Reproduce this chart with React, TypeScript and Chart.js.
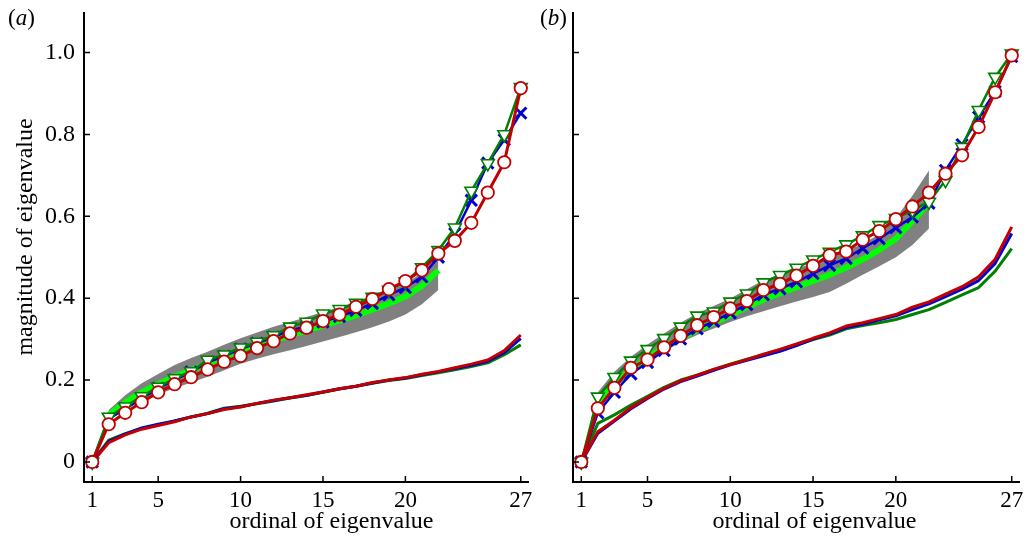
import React, { useEffect, useRef } from 'react';
import { Chart, registerables } from 'chart.js';

Chart.register(...registerables);

// ---------- data ----------
const ordinals = [1, 2, 3, 4, 5, 6, 7, 8, 9, 10, 11, 12, 13, 14, 15, 16, 17, 18, 19, 20, 21, 22, 23, 24, 25, 26, 27];
const bandOrdinals = [2, 3, 4, 5, 6, 7, 8, 9, 10, 11, 12, 13, 14, 15, 16, 17, 18, 19, 20, 21, 22];
const xTickValues = [1, 5, 10, 15, 20, 27];
const yTickValues = [0, 0.2, 0.4, 0.6, 0.8, 1.0];
const xTitle = 'ordinal of eigenvalue';
const yTitle = 'magnitude of eigenvalue';

// panel (a)
const aRedCircles = [0, 0.092, 0.12, 0.146, 0.17, 0.19, 0.207, 0.226, 0.245, 0.259, 0.278, 0.295, 0.314, 0.328, 0.344, 0.36, 0.379, 0.398, 0.422, 0.442, 0.468, 0.509, 0.54, 0.584, 0.658, 0.732, 0.913];
const aGreenTriangles = [0, 0.11, 0.135, 0.16, 0.183, 0.204, 0.221, 0.249, 0.262, 0.279, 0.293, 0.309, 0.33, 0.342, 0.362, 0.373, 0.388, 0.403, 0.42, 0.44, 0.475, 0.517, 0.572, 0.662, 0.729, 0.8, 0.915];
const aBlueCrosses = [0, 0.105, 0.13, 0.155, 0.18, 0.2, 0.22, 0.243, 0.258, 0.276, 0.29, 0.305, 0.322, 0.33, 0.342, 0.355, 0.37, 0.387, 0.408, 0.426, 0.452, 0.5, 0.558, 0.639, 0.73, 0.787, 0.852];
const aLowRed = [0, 0.047, 0.066, 0.08, 0.089, 0.098, 0.11, 0.118, 0.128, 0.134, 0.143, 0.151, 0.157, 0.164, 0.171, 0.179, 0.185, 0.194, 0.2, 0.206, 0.214, 0.221, 0.23, 0.239, 0.249, 0.272, 0.31];
const aLowGreen = [0, 0.053, 0.069, 0.082, 0.09, 0.1, 0.11, 0.119, 0.131, 0.136, 0.142, 0.149, 0.156, 0.162, 0.17, 0.178, 0.185, 0.192, 0.199, 0.204, 0.211, 0.218, 0.225, 0.233, 0.242, 0.262, 0.286];
const aLowBlue = [0, 0.05, 0.068, 0.083, 0.092, 0.1, 0.11, 0.118, 0.13, 0.135, 0.143, 0.15, 0.157, 0.163, 0.171, 0.179, 0.185, 0.193, 0.2, 0.205, 0.213, 0.22, 0.228, 0.236, 0.246, 0.267, 0.302];
const aLightGreen = [0.115, 0.145, 0.17, 0.19, 0.208, 0.224, 0.24, 0.255, 0.27, 0.283, 0.296, 0.309, 0.321, 0.333, 0.345, 0.358, 0.372, 0.387, 0.404, 0.43, 0.468];
const aBandUpper = [0.127, 0.163, 0.192, 0.215, 0.237, 0.254, 0.269, 0.286, 0.302, 0.316, 0.33, 0.342, 0.354, 0.366, 0.378, 0.391, 0.404, 0.419, 0.435, 0.462, 0.505];
const aBandLower = [0.105, 0.128, 0.148, 0.165, 0.18, 0.194, 0.208, 0.224, 0.24, 0.252, 0.263, 0.273, 0.283, 0.294, 0.305, 0.317, 0.329, 0.343, 0.36, 0.385, 0.42];

// panel (b)
const bRedCircles = [0, 0.131, 0.181, 0.23, 0.25, 0.28, 0.308, 0.334, 0.354, 0.375, 0.393, 0.42, 0.435, 0.455, 0.479, 0.505, 0.514, 0.543, 0.564, 0.593, 0.624, 0.658, 0.704, 0.749, 0.818, 0.903, 0.993];
const bGreenTriangles = [0, 0.159, 0.207, 0.247, 0.275, 0.302, 0.33, 0.357, 0.367, 0.391, 0.411, 0.438, 0.456, 0.474, 0.494, 0.513, 0.531, 0.553, 0.578, 0.595, 0.615, 0.635, 0.688, 0.769, 0.859, 0.94, 0.997];
const bBlueCrosses = [0, 0.12, 0.17, 0.215, 0.243, 0.272, 0.3, 0.325, 0.343, 0.364, 0.384, 0.408, 0.423, 0.44, 0.46, 0.48, 0.497, 0.522, 0.545, 0.572, 0.598, 0.632, 0.712, 0.775, 0.842, 0.905, 0.99];
const bLowRed = [0, 0.074, 0.102, 0.133, 0.157, 0.18, 0.198, 0.212, 0.226, 0.238, 0.25, 0.263, 0.275, 0.288, 0.302, 0.315, 0.332, 0.34, 0.35, 0.36, 0.378, 0.391, 0.41, 0.428, 0.452, 0.495, 0.574];
const bLowGreen = [0, 0.094, 0.115, 0.139, 0.16, 0.182, 0.2, 0.212, 0.226, 0.239, 0.251, 0.262, 0.274, 0.286, 0.299, 0.31, 0.325, 0.333, 0.34, 0.348, 0.36, 0.372, 0.39, 0.408, 0.426, 0.466, 0.521];
const bLowBlue = [0, 0.07, 0.1, 0.13, 0.155, 0.178, 0.196, 0.21, 0.224, 0.237, 0.248, 0.259, 0.27, 0.284, 0.3, 0.313, 0.328, 0.336, 0.347, 0.357, 0.372, 0.386, 0.404, 0.422, 0.443, 0.485, 0.558];
const bLightGreen = [0.15, 0.19, 0.225, 0.255, 0.28, 0.302, 0.322, 0.34, 0.358, 0.378, 0.396, 0.412, 0.427, 0.442, 0.457, 0.475, 0.495, 0.518, 0.545, 0.588, 0.632];
const bBandUpper = [0.17, 0.22, 0.257, 0.287, 0.314, 0.34, 0.363, 0.381, 0.399, 0.422, 0.444, 0.458, 0.472, 0.486, 0.5, 0.516, 0.533, 0.556, 0.596, 0.65, 0.712];
const bBandLower = [0.145, 0.182, 0.213, 0.243, 0.27, 0.292, 0.31, 0.326, 0.342, 0.356, 0.368, 0.38, 0.392, 0.403, 0.415, 0.435, 0.457, 0.478, 0.5, 0.53, 0.57];

// ---------- styling ----------
const FONT = '"Liberation Serif", "Times New Roman", serif';
const RED = '#c20000';
const GREEN = '#008000';
const BLUE = '#0000d0';
const LIGHT = '#00ff00';
const GRAY = '#808080';

const pts = (xs: number[], ys: number[]) => xs.map((x, i) => ({ x, y: ys[i] }));

type Panel = {
  label: string;
  red: number[]; green: number[]; blue: number[];
  lowRed: number[]; lowGreen: number[]; lowBlue: number[];
  light: number[]; upper: number[]; lower: number[];
  yWidth: number; padRight: number; showYLabels: boolean; showYTitle: boolean; xTitleShift: number;
  canvasLeft: number; canvasWidth: number; labelX: number;
};

const panels: Panel[] = [
  {
    label: 'a', red: aRedCircles, green: aGreenTriangles, blue: aBlueCrosses,
    lowRed: aLowRed, lowGreen: aLowGreen, lowBlue: aLowBlue,
    light: aLightGreen, upper: aBandUpper, lower: aBandLower,
    yWidth: 84, padRight: 7, showYLabels: true, showYTitle: true, xTitleShift: 25,
    canvasLeft: 0, canvasWidth: 540, labelX: 8,
  },
  {
    label: 'b', red: bRedCircles, green: bGreenTriangles, blue: bBlueCrosses,
    lowRed: bLowRed, lowGreen: bLowGreen, lowBlue: bLowBlue,
    light: bLightGreen, upper: bBandUpper, lower: bBandLower,
    yWidth: 33, padRight: 8, showYLabels: false, showYTitle: false, xTitleShift: 18,
    canvasLeft: 540, canvasWidth: 491, labelX: 0,
  },
];

function decorPlugin(p: Panel) {
  return {
    id: 'decor' + p.label,
    afterDraw(chart: any) {
      const { ctx, chartArea } = chart;
      const { left, right, top, bottom } = chartArea;
      const xs = chart.scales.x;
      const ys = chart.scales.y;
      ctx.save();
      ctx.strokeStyle = '#000';
      ctx.lineWidth = 2;
      ctx.beginPath();
      ctx.moveTo(left, top);
      ctx.lineTo(left, bottom);
      ctx.lineTo(right, bottom);
      ctx.stroke();
      ctx.lineWidth = 1.5;
      ctx.beginPath();
      for (const v of xTickValues) {
        const px = xs.getPixelForValue(v);
        ctx.moveTo(px, bottom);
        ctx.lineTo(px, bottom - 6);
      }
      for (const v of yTickValues) {
        const py = ys.getPixelForValue(v);
        ctx.moveTo(left, py);
        ctx.lineTo(left + 6, py);
      }
      ctx.stroke();

      ctx.fillStyle = '#000';
      ctx.font = `24px ${FONT}`;
      ctx.textAlign = 'center';
      ctx.textBaseline = 'alphabetic';
      ctx.fillText(xTitle, (left + right) / 2 + p.xTitleShift, 528);
      if (p.showYTitle) {
        ctx.save();
        ctx.translate(31.5, 237);
        ctx.rotate(-Math.PI / 2);
        ctx.fillText(yTitle, 0, 0);
        ctx.restore();
      }
      // panel label "(a)" with italic letter
      ctx.textAlign = 'left';
      let x0 = p.labelX;
      const yb = 25;
      ctx.font = `23px ${FONT}`;
      ctx.fillText('(', x0, yb);
      x0 += ctx.measureText('(').width;
      ctx.font = `italic 23px ${FONT}`;
      ctx.fillText(p.label, x0, yb);
      x0 += ctx.measureText(p.label).width;
      ctx.font = `23px ${FONT}`;
      ctx.fillText(')', x0, yb);
      ctx.restore();
    },
  };
}

function makeConfig(p: Panel): any {
  const line = (data: number[], color: string, width: number, order: number) => ({
    data: pts(ordinals, data),
    borderColor: color,
    borderWidth: width,
    pointRadius: 0,
    fill: false,
    tension: 0,
    borderJoinStyle: 'round',
    order,
  });
  return {
    type: 'line',
    data: {
      datasets: [
        {
          data: pts(ordinals, p.red), borderColor: RED, borderWidth: 3, tension: 0, fill: false,
          pointStyle: 'circle', pointRadius: 6.2, pointBackgroundColor: '#ffffff', pointBorderColor: RED, pointBorderWidth: 1.8,
          order: 0, clip: false, borderJoinStyle: 'round',
        },
        {
          data: pts(ordinals, p.green), borderColor: GREEN, borderWidth: 2.5, tension: 0, fill: false,
          pointStyle: 'triangle', pointRotation: 180, pointRadius: 7.4, pointBackgroundColor: '#ffffff', pointBorderColor: GREEN, pointBorderWidth: 1.6,
          order: 1, clip: false, borderJoinStyle: 'round',
        },
        {
          data: pts(ordinals, p.blue), borderColor: BLUE, borderWidth: 2.5, tension: 0, fill: false,
          pointStyle: 'crossRot', pointRadius: 8, pointBorderColor: BLUE, pointBorderWidth: 3,
          order: 2, clip: false, borderJoinStyle: 'round',
        },
        line(p.lowRed, RED, 3, 3),
        line(p.lowBlue, BLUE, 3, 4),
        line(p.lowGreen, GREEN, 3, 5),
        {
          data: pts(bandOrdinals, p.light), borderColor: LIGHT, borderWidth: 6, pointRadius: 0, tension: 0, fill: false,
          order: 6, borderJoinStyle: 'round',
        },
        {
          data: pts(bandOrdinals, p.upper), borderColor: 'rgba(0,0,0,0)', borderWidth: 0, pointRadius: 0, tension: 0,
          backgroundColor: GRAY, fill: '+1', order: 7,
        },
        {
          data: pts(bandOrdinals, p.lower), borderColor: 'rgba(0,0,0,0)', borderWidth: 0, pointRadius: 0, tension: 0,
          fill: false, order: 8,
        },
      ],
    },
    options: {
      animation: false,
      responsive: false,
      maintainAspectRatio: false,
      layout: { padding: { left: 0, right: p.padRight, top: 12, bottom: 0 } },
      plugins: { legend: { display: false }, tooltip: { enabled: false }, title: { display: false } },
      scales: {
        x: {
          type: 'linear', min: 0.5, max: 27.5,
          grid: { display: false, drawTicks: false },
          border: { display: false },
          afterBuildTicks: (s: any) => { s.ticks = xTickValues.map((v) => ({ value: v })); },
          afterFit: (s: any) => { s.height = 55; s.paddingLeft = 0; s.paddingRight = 0; s.paddingTop = 0; s.paddingBottom = 0; },
          ticks: {
            font: { family: FONT, size: 23 }, color: '#000', padding: 5, maxRotation: 0, autoSkip: false,
            callback: (v: any) => String(v),
          },
        },
        y: {
          type: 'linear', min: -0.049, max: 1.099,
          grid: { display: false, drawTicks: false },
          border: { display: false },
          afterBuildTicks: (s: any) => { s.ticks = yTickValues.map((v) => ({ value: v })); },
          afterFit: (s: any) => { s.width = p.yWidth; s.paddingLeft = 0; s.paddingRight = 0; s.paddingTop = 0; s.paddingBottom = 0; },
          ticks: {
            display: p.showYLabels,
            font: { family: FONT, size: 24 }, color: '#000', padding: 9,
            callback: (v: any) => (Number(v) === 0 ? '0' : Number(v).toFixed(1)),
          },
        },
      },
    },
    plugins: [decorPlugin(p)],
  };
}

function PanelChart({ p }: { p: Panel }) {
  const ref = useRef<HTMLCanvasElement | null>(null);
  useEffect(() => {
    if (!ref.current) return;
    const chart = new Chart(ref.current, makeConfig(p));
    return () => chart.destroy();
  }, [p]);
  return (
    <canvas
      ref={ref}
      width={p.canvasWidth}
      height={537}
      style={{ position: 'absolute', left: p.canvasLeft, top: 0, width: p.canvasWidth, height: 537 }}
    />
  );
}

export default function App() {
  return (
    <div style={{ position: 'absolute', left: 0, top: 0, width: 1031, height: 537, background: '#fff', overflow: 'hidden' }}>
      {panels.map((p) => (
        <PanelChart key={p.label} p={p} />
      ))}
    </div>
  );
}
